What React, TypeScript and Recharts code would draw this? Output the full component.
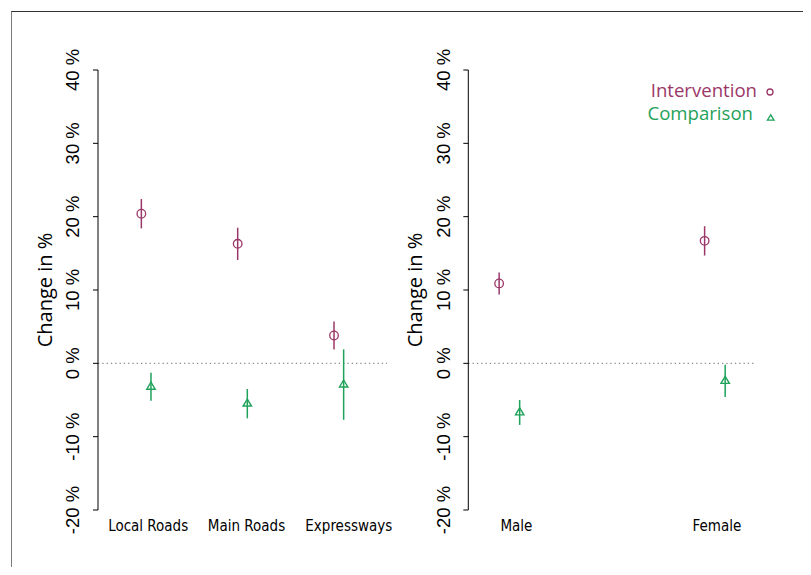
import {
  ComposedChart,
  Scatter,
  ErrorBar,
  XAxis,
  YAxis,
  ReferenceLine,
} from "recharts";

// road type panel
const roadTypes = ["Local Roads", "Main Roads", "Expressways"];
const roadIntervention = [20.4, 16.3, 3.8];
const roadInterventionErr = [2.0, 2.2, 1.9];
const roadComparison = [-3.2, -5.5, -2.9];
const roadComparisonErr = [1.9, 2.0, 4.8];

// sex panel
const sexes = ["Male", "Female"];
const sexIntervention = [10.9, 16.7];
const sexInterventionErr = [1.5, 2.0];
const sexComparison = [-6.7, -2.4];
const sexComparisonErr = [1.7, 2.2];

const yTicks = [-20, -10, 0, 10, 20, 30, 40];

const PURPLE = "#9b3768";
const GREEN = "#1fa25a";
const DODGE = 0.05;

const toPoints = (vals: number[], errs: number[], shift: number) =>
  vals.map((v, i) => ({ x: i + 1 + shift, y: v, err: errs[i] }));

const Circle = (p: any) => (
  <circle cx={p.cx} cy={p.cy} r={4.3} fill="none" stroke={PURPLE} strokeWidth={1.3} />
);

const Triangle = (p: any) => (
  <polygon
    points={`${p.cx},${p.cy - 4.6} ${p.cx - 4.2},${p.cy + 2.4} ${p.cx + 4.2},${p.cy + 2.4}`}
    fill="none"
    stroke={GREEN}
    strokeWidth={1.4}
  />
);

const YTick = ({ x, y, payload }: any) => (
  <g transform={`translate(${x - 18},${y}) rotate(-90)`}>
    <text textAnchor="middle" dy="0.35em" fontSize={18.5} fontFamily="'Liberation Sans', Arial, sans-serif" fill="#000">
      {payload.value} %
    </text>
  </g>
);

const makeXTick = (labels: string[], nudges: number[]) => ({ x, y, payload }: any) => {
  const i = Math.round(payload.value) - 1;
  return (
    <text
      x={x + (nudges[i] || 0)}
      y={y + 13}
      textAnchor="middle"
      fontSize={15}
      fontFamily="'DejaVu Sans Condensed', 'Liberation Sans Narrow', sans-serif"
      style={{ fontStretch: "condensed" }}
      fill="#000"
    >
      {labels[i]}
    </text>
  );
};

const yTitle = (props: any) => {
  const vb = props.viewBox;
  const cx = vb.x + 7;
  const cy = vb.y + vb.height / 2;
  return (
    <text
      transform={`translate(${cx},${cy}) rotate(-90)`}
      textAnchor="middle"
      dy="0.35em"
      fontSize={20}
      fontFamily="'Open Sans', sans-serif"
      fill="#000"
    >
      Change in %
    </text>
  );
};

type PanelProps = {
  labels: string[];
  nudges: number[];
  domain: [number, number];
  inter: number[];
  interErr: number[];
  comp: number[];
  compErr: number[];
  marginLeft: number;
  marginRight: number;
};

function Panel(p: PanelProps) {
  const XTick = makeXTick(p.labels, p.nudges);
  return (
    <ComposedChart
      width={400}
      height={575}
      margin={{ top: 70, right: p.marginRight, bottom: 35, left: p.marginLeft }}
    >
      <XAxis
        type="number"
        dataKey="x"
        domain={p.domain}
        ticks={p.labels.map((_, i) => i + 1)}
        interval={0}
        axisLine={false}
        tickLine={false}
        height={30}
        tick={XTick}
      />
      <YAxis
        type="number"
        dataKey="y"
        domain={[-20, 40]}
        ticks={yTicks}
        interval={0}
        width={60}
        tickSize={5}
        tickMargin={2}
        axisLine={{ stroke: "#000", strokeWidth: 1 }}
        tickLine={{ stroke: "#000", strokeWidth: 1 }}
        tick={YTick}
        label={yTitle}
      />
      <ReferenceLine y={0} stroke="#8c8c8c" strokeWidth={1.2} strokeDasharray="1.3 3" />
      <Scatter
        data={toPoints(p.inter, p.interErr, -DODGE)}
        dataKey="y"
        shape={Circle}
        isAnimationActive={false}
      >
        <ErrorBar dataKey="err" direction="y" width={0} stroke={PURPLE} strokeWidth={1.5} isAnimationActive={false} />
      </Scatter>
      <Scatter
        data={toPoints(p.comp, p.compErr, DODGE)}
        dataKey="y"
        shape={Triangle}
        isAnimationActive={false}
      >
        <ErrorBar dataKey="err" direction="y" width={0} stroke={GREEN} strokeWidth={1.5} isAnimationActive={false} />
      </Scatter>
    </ComposedChart>
  );
}

export default function App() {
  return (
    <div style={{ position: "relative", width: 811, height: 575, margin: -8, background: "#fff", overflow: "hidden" }}>
      <div
        style={{
          position: "absolute",
          left: 11,
          top: 11,
          width: 820,
          height: 600,
          borderLeft: "1.5px solid #7a7a7a",
          borderTop: "1.5px solid #333",
        }}
      />
      <div style={{ position: "absolute", left: 0, top: 0 }}>
        <Panel
          labels={roadTypes}
          nudges={[2, 4, 10]}
          domain={[0.5, 3.5]}
          inter={roadIntervention}
          interErr={roadInterventionErr}
          comp={roadComparison}
          compErr={roadComparisonErr}
          marginLeft={38}
          marginRight={13}
        />
      </div>
      <div style={{ position: "absolute", left: 400, top: 0 }}>
        <Panel
          labels={sexes}
          nudges={[7, 2]}
          domain={[0.8, 2.2]}
          inter={sexIntervention}
          interErr={sexInterventionErr}
          comp={sexComparison}
          compErr={sexComparisonErr}
          marginLeft={8.3}
          marginRight={44}
        />
      </div>
      <svg width={811} height={575} style={{ position: "absolute", left: 0, top: 0, pointerEvents: "none" }}>
        <g fontFamily="'Open Sans', sans-serif" fontSize={18.6}>
          <text x={757} y={97} textAnchor="end" fill={PURPLE}>Intervention</text>
          <circle cx={770} cy={92} r={3} fill="none" stroke={PURPLE} strokeWidth={1.3} />
          <text x={753} y={120} textAnchor="end" fill={GREEN}>Comparison</text>
          <polygon points="770.7,114.8 767.4,120.2 774,120.2" fill="none" stroke={GREEN} strokeWidth={1.3} />
        </g>
      </svg>
    </div>
  );
}
